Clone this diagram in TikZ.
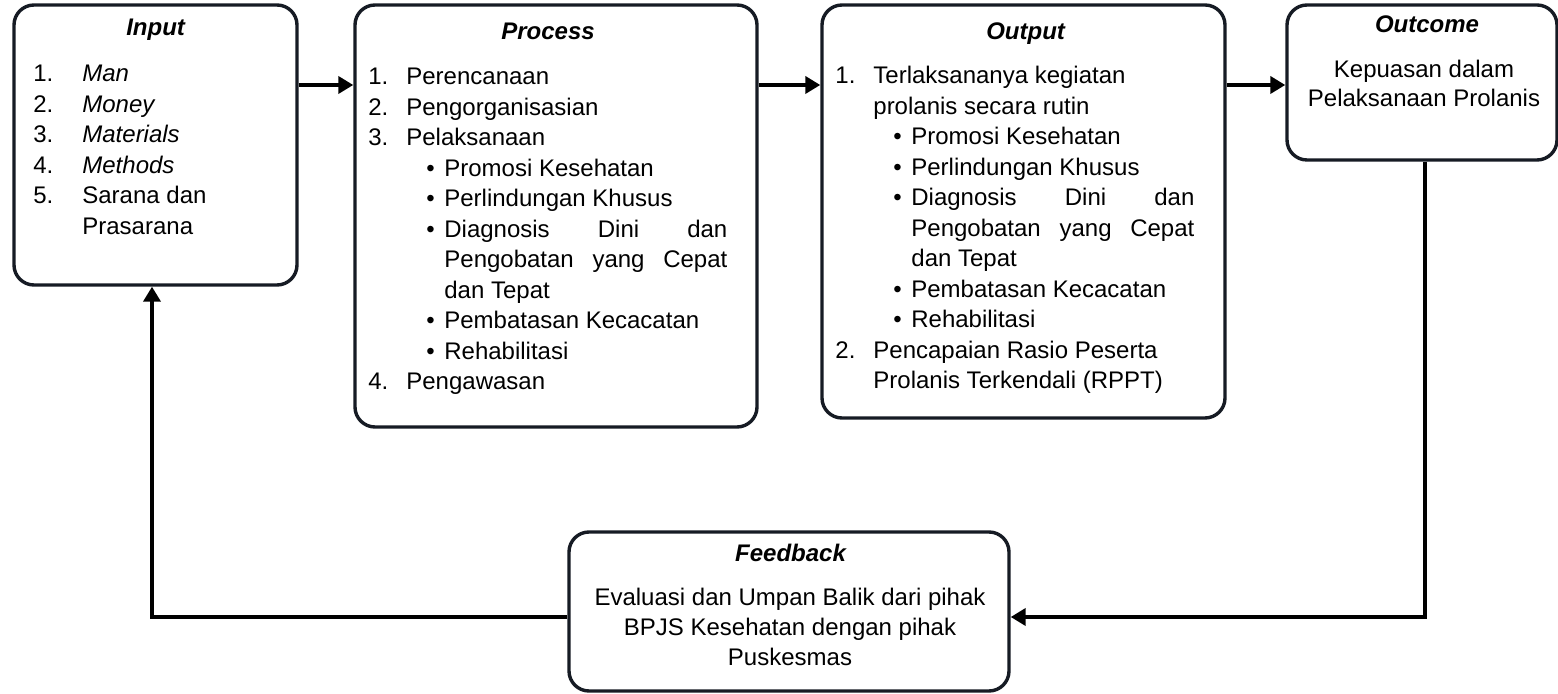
\documentclass[tikz,border=0pt]{standalone}
\usepackage{fontspec}
\setmainfont{Liberation Sans}
\usetikzlibrary{arrows.meta}
\definecolor{boxc}{RGB}{22,27,36}
\newcommand{\bodyfs}{\fontsize{12}{15.25}\selectfont}
\newcommand{\titl}[1]{\textbf{\textit{#1}}}
\newcommand{\numi}[2]{\makebox[19pt][l]{#1}#2}
\newcommand{\bul}[1]{\hspace*{29pt}\makebox[9pt][l]{•}#1}
\newcommand{\cont}[1]{\hspace*{38pt}#1}
\newcommand{\just}[1]{\hspace*{38pt}\makebox[141.5pt][s]{#1}}
\begin{document}
\begin{tikzpicture}[x=0.5pt,y=-0.5pt,
  box/.style={draw=boxc, line width=1.7pt, rounded corners=10pt, inner sep=0pt, fill=white},
  link/.style={line width=2pt, draw=black, -{Triangle[length=7.5pt,width=8.5pt]}},
  txt/.style={inner sep=0pt, anchor=base west, font=\bodyfs, text=black},
  ctxt/.style={inner sep=0pt, anchor=base, font=\bodyfs, text=black},
  ttl/.style={inner sep=0pt, anchor=base, font=\bodyfs, text=black}]
\useasboundingbox[fill=white] (0,0) rectangle (1558,694);

% boxes
\node[box, minimum width=141.5pt, minimum height=140pt] (in) at (155.5,145) {};
\node[box, minimum width=201pt, minimum height=211pt] (proc) at (556,216) {};
\node[box, minimum width=201.5pt, minimum height=206.5pt] (out) at (1023.5,211.5) {};
\node[box, minimum width=135pt, minimum height=77.5pt] (outc) at (1422,82.5) {};
\node[box, minimum width=220pt, minimum height=79.5pt] (fb) at (789,611.5) {};

% titles
\node[ttl] (tin) at (156,36) {\titl{Input}};
\node[ttl] (tproc) at (548,40) {\titl{Process}};
\node[ttl] (tout) at (1026,40) {\titl{Output}};
\node[ttl] (toutc) at (1427,33) {\titl{Outcome}};
\node[ttl] (tfb) at (791,562) {\titl{Feedback}};

% input list
\node[txt] (lin) at (33,82) {\parbox[t]{130pt}{%
\makebox[24.5pt][l]{1.}\textit{Man}\\
\makebox[24.5pt][l]{2.}\textit{Money}\\
\makebox[24.5pt][l]{3.}\textit{Materials}\\
\makebox[24.5pt][l]{4.}\textit{Methods}\\
\makebox[24.5pt][l]{5.}Sarana dan\\
\hspace*{24.5pt}Prasarana}};

% process list
\node[txt] (lproc) at (368,85) {\parbox[t]{190pt}{%
\numi{1.}{Perencanaan}\\
\numi{2.}{Pengorganisasian}\\
\numi{3.}{Pelaksanaan}\\
\bul{Promosi Kesehatan}\\
\bul{Perlindungan Khusus}\\
\hspace*{29pt}\makebox[9pt][l]{•}\makebox[141.5pt][s]{Diagnosis\hfill Dini\hfill dan}\\
\just{Pengobatan\hfill yang\hfill Cepat}\\
\cont{dan Tepat}\\
\bul{Pembatasan Kecacatan}\\
\bul{Rehabilitasi}\\
\numi{4.}{Pengawasan}}};

% output list
\node[txt] (lout) at (835,84) {\parbox[t]{190pt}{%
\numi{1.}{Terlaksananya kegiatan}\\
\hspace*{19pt}prolanis secara rutin\\
\bul{Promosi Kesehatan}\\
\bul{Perlindungan Khusus}\\
\hspace*{29pt}\makebox[9pt][l]{•}\makebox[141.5pt][s]{Diagnosis\hfill Dini\hfill dan}\\
\just{Pengobatan\hfill yang\hfill Cepat}\\
\cont{dan Tepat}\\
\bul{Pembatasan Kecacatan}\\
\bul{Rehabilitasi}\\
\numi{2.}{Pencapaian Rasio Peserta}\\
\hspace*{19pt}Prolanis Terkendali (RPPT)}};

% outcome text
\node[ctxt] (loutc) at (1424,78) {\parbox[t]{130pt}{\fontsize{12}{14.5}\selectfont\centering
Kepuasan dalam\\Pelaksanaan Prolanis}};

% feedback text
\node[ctxt] (lfb) at (790,605) {\parbox[t]{215pt}{\centering
Evaluasi dan Umpan Balik dari pihak\\BPJS Kesehatan dengan pihak\\Puskesmas}};

% helper coordinates
\coordinate (r1) at (0,85);
\coordinate (r2) at (0,617);
\coordinate (c1) at (1425,0);
\coordinate (c2) at (152,0);

% connectors
\draw[link] (in.east |- r1) -- (proc.west |- r1);
\draw[link] (proc.east |- r1) -- (out.west |- r1);
\draw[link] (out.east |- r1) -- (outc.west |- r1);
\draw[link] (outc.south -| c1) |- (fb.east |- r2);
\draw[link] (fb.west |- r2) -| (in.south -| c2);
\end{tikzpicture}
\end{document}
